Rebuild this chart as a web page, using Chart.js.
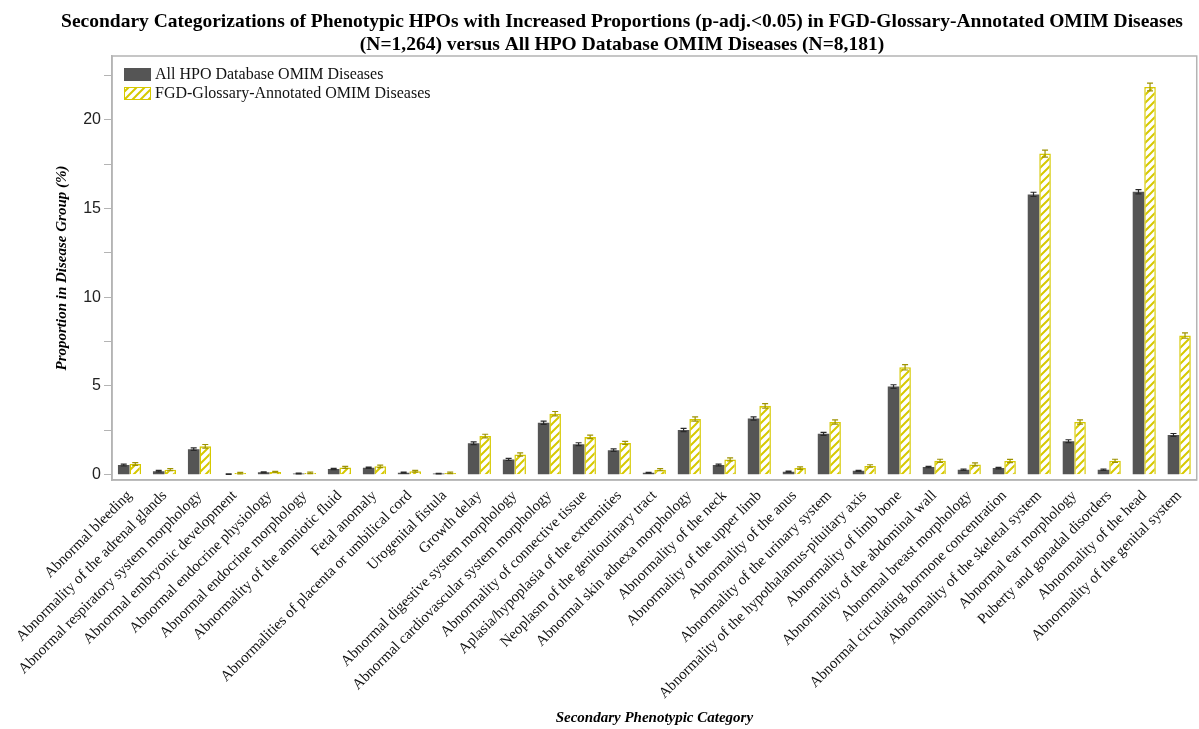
<!DOCTYPE html>
<html><head><meta charset="utf-8">
<script src="https://cdn.jsdelivr.net/npm/chart.js@4.4.0/dist/chart.umd.min.js"></script>
<style>html,body{margin:0;padding:0;background:#fff;overflow:hidden}</style>
</head><body>
<canvas id="c" width="1199" height="729"></canvas>
<script>
const categories = [
 "Abnormal bleeding","Abnormality of the adrenal glands","Abnormal respiratory system morphology",
 "Abnormal embryonic development","Abnormal endocrine physiology","Abnormal endocrine morphology",
 "Abnormality of the amniotic fluid","Fetal anomaly","Abnormalities of placenta or umbilical cord",
 "Urogenital fistula","Growth delay","Abnormal digestive system morphology",
 "Abnormal cardiovascular system morphology","Abnormality of connective tissue",
 "Aplasia/hypoplasia of the extremities","Neoplasm of the genitourinary tract",
 "Abnormal skin adnexa morphology","Abnormality of the neck","Abnormality of the upper limb",
 "Abnormality of the anus","Abnormality of the urinary system",
 "Abnormality of the hypothalamus-pituitary axis","Abnormality of limb bone",
 "Abnormality of the abdominal wall","Abnormal breast morphology",
 "Abnormal circulating hormone concentration","Abnormality of the skeletal system",
 "Abnormal ear morphology","Puberty and gonadal disorders","Abnormality of the head",
 "Abnormality of the genital system"
];
const allHPO = [0.54,0.20,1.44,0.03,0.13,0.07,0.32,0.39,0.11,0.06,1.77,0.86,2.93,1.72,1.38,0.11,2.52,0.54,3.17,0.17,2.30,0.22,4.97,0.43,0.28,0.37,15.80,1.89,0.28,15.95,2.24];
const fgd    = [0.60,0.28,1.60,0.09,0.15,0.10,0.41,0.47,0.19,0.10,2.18,1.14,3.44,2.13,1.79,0.28,3.14,0.86,3.88,0.37,2.97,0.49,6.05,0.78,0.58,0.77,18.10,2.97,0.78,21.85,7.84];
const allErr = [0.05,0.04,0.07,0.02,0.03,0.02,0.04,0.04,0.03,0.02,0.08,0.06,0.09,0.08,0.07,0.02,0.09,0.05,0.09,0.03,0.08,0.03,0.10,0.04,0.04,0.04,0.12,0.08,0.04,0.12,0.08];
const fgdErr = [0.08,0.06,0.10,0.04,0.04,0.04,0.06,0.07,0.05,0.04,0.10,0.09,0.12,0.10,0.09,0.06,0.12,0.09,0.13,0.07,0.12,0.07,0.15,0.09,0.08,0.09,0.20,0.12,0.09,0.22,0.15];
const yTickValues = [0,2.5,5,7.5,10,12.5,15,17.5,20,22.5];
const yTickLabels = ["0","","5","","10","","15","","20",""];
const seriesNames = ["All HPO Database OMIM Diseases","FGD-Glossary-Annotated OMIM Diseases"];
const titleLines = ["Secondary Categorizations of Phenotypic HPOs with Increased Proportions (p-adj.<0.05) in FGD-Glossary-Annotated OMIM Diseases",
                    "(N=1,264) versus All HPO Database OMIM Diseases (N=8,181)"];
const yTitle = "Proportion in Disease Group (%)";
const xTitle = "Secondary Phenotypic Category";

const DARK = '#555555', YEL = '#d6c900';
function makeHatch(){
  const c = document.createElement('canvas'); c.width = 8; c.height = 8;
  const g = c.getContext('2d');
  g.fillStyle = '#ffffff'; g.fillRect(0,0,8,8);
  g.strokeStyle = YEL; g.lineWidth = 2;
  g.beginPath();
  g.moveTo(0,8); g.lineTo(8,0);
  g.moveTo(-2,2); g.lineTo(2,-2);
  g.moveTo(6,10); g.lineTo(10,6);
  g.stroke();
  return g.createPattern(c,'repeat');
}
const hatch = makeHatch();

const deco = {
  id:'deco',
  afterDatasetsDraw(chart){
    const ctx = chart.ctx, y = chart.scales.y;
    [[0,allHPO,allErr,'#2a2a2a'],[1,fgd,fgdErr,'#9e9300']].forEach(([i,vals,errs,col])=>{
      const meta = chart.getDatasetMeta(i);
      ctx.save(); ctx.strokeStyle = col; ctx.lineWidth = 1.2;
      meta.data.forEach((bar,k)=>{
        const yt = y.getPixelForValue(vals[k]+errs[k]);
        const yb = y.getPixelForValue(Math.max(0,vals[k]-errs[k]));
        ctx.beginPath();
        ctx.moveTo(bar.x,yt); ctx.lineTo(bar.x,yb);
        ctx.moveTo(bar.x-3,yt); ctx.lineTo(bar.x+3,yt);
        ctx.moveTo(bar.x-3,yb); ctx.lineTo(bar.x+3,yb);
        ctx.stroke();
      });
      ctx.restore();
    });
  },
  afterDraw(chart){
    const ctx = chart.ctx, a = chart.chartArea;
    ctx.save();
    ctx.strokeStyle = '#b4b4b4'; ctx.lineWidth = 1.5;
    ctx.strokeRect(a.left, a.top, a.right-a.left, a.bottom-a.top);
    ctx.fillStyle = '#000';
    ctx.font = 'bold 19.5px "Liberation Serif", serif';
    ctx.textAlign = 'center'; ctx.textBaseline = 'middle';
    ctx.fillText(titleLines[0], 622, 22);
    ctx.fillText(titleLines[1], 622, 45);
    ctx.font = 'italic bold 15px "Liberation Serif", serif';
    ctx.fillText(xTitle, (a.left+a.right)/2, 718);
    ctx.save();
    ctx.translate(62, (a.top+a.bottom)/2);
    ctx.rotate(-Math.PI/2);
    ctx.fillText(yTitle, 0, 0);
    ctx.restore();
    const ds = chart.data.datasets;
    ctx.font = '16px "Liberation Serif", serif';
    ctx.textAlign = 'left';
    [[0,68],[1,87]].forEach(([i,yy])=>{
      ctx.fillStyle = ds[i].backgroundColor;
      ctx.fillRect(124, yy, 27, 13);
      if (i===1){ ctx.strokeStyle = YEL; ctx.lineWidth = 1; ctx.strokeRect(124.5, yy+0.5, 26, 12); }
      ctx.fillStyle = '#111';
      ctx.fillText(ds[i].label, 155, yy+7);
    });
    ctx.restore();
  }
};

new Chart(document.getElementById('c'), {
  type:'bar',
  data:{
    labels: categories,
    datasets:[
      {label: seriesNames[0], data: allHPO, backgroundColor: DARK, borderWidth:0,
       categoryPercentage:0.66, barPercentage:1.0},
      {label: seriesNames[1], data: fgd, backgroundColor: hatch, borderColor: YEL, borderWidth:1.5,
       categoryPercentage:0.66, barPercentage:1.0}
    ]
  },
  options:{
    responsive:false, animation:false, devicePixelRatio:1,
    layout:{padding:{top:56,right:2,left:0,bottom:0}},
    plugins:{legend:{display:false}, title:{display:false}, tooltip:{enabled:false}},
    scales:{
      x:{
        grid:{display:false, drawTicks:false},
        border:{display:true, color:'#b4b4b4', width:1.5},
        ticks:{autoSkip:false, minRotation:45, maxRotation:45, padding:7, color:'#111',
               font:{family:'"Liberation Serif", serif', size:15}},
        afterFit(s){ s.height = 249; }
      },
      y:{
        min:-0.3, max:23.6,
        afterBuildTicks(s){ s.ticks = yTickValues.map(v=>({value:v})); },
        grid:{drawOnChartArea:false, drawTicks:true, tickLength:8, color:'#b4b4b4'},
        border:{display:true, color:'#b4b4b4', width:1.5},
        ticks:{padding:3, color:'#222', font:{family:'"Liberation Sans", Arial, sans-serif', size:16},
               callback(v, i){ return yTickLabels[i]; }},
        afterFit(s){ s.width = 112; }
      }
    }
  },
  plugins:[deco]
});
</script>
</body></html>
